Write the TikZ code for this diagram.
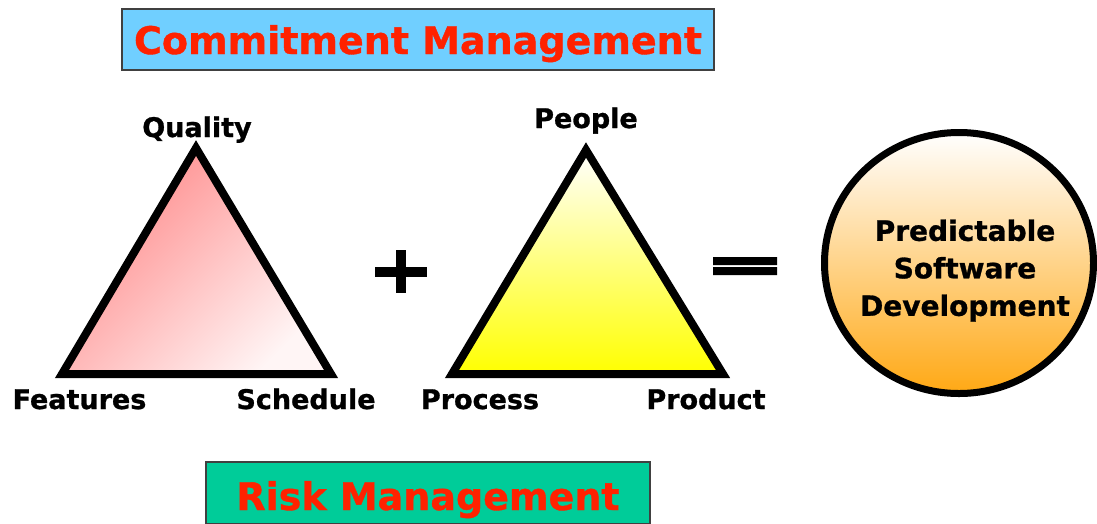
\documentclass[tikz,border=0pt]{standalone}
\usepackage{fontspec}
\setmainfont{DejaVu Sans}[BoldFeatures={FakeBold=1}]
\usetikzlibrary{positioning,shapes.geometric}

\definecolor{boxblue}{RGB}{112,207,255}
\definecolor{boxgreen}{RGB}{0,204,153}
\definecolor{titlered}{RGB}{255,34,0}
\definecolor{tripink}{RGB}{255,135,135}
\definecolor{triyellow}{RGB}{255,255,0}
\definecolor{goalpeach}{RGB}{255,216,188}
\definecolor{goalorange}{RGB}{255,168,20}

\begin{document}
\begin{tikzpicture}[x=1pt,y=-1pt,
    title/.style={draw=black!75, line width=1.5, text=titlered, inner sep=0,
      font=\fontsize{38}{40}\selectfont\bfseries, text depth=0pt},
    corner/.style={anchor=base, inner sep=0, font=\fontsize{27}{29}\selectfont\bfseries},
    side/.style={line width=8, line join=miter}]
  \useasboundingbox (0,0) rectangle (1097,523);

  \node[title, fill=boxblue, minimum width=592, minimum height=61, text height=29pt] (commit) at (418,39.5) {Commitment Management};
  \node[title, fill=boxgreen, minimum width=444, minimum height=62, text height=34pt] (risk) at (428,493) {Risk Management};

  % quality triangle
  \coordinate (q_top) at (196,148);
  \coordinate (q_left) at (62,374);
  \coordinate (q_right) at (331,374);
  \shadedraw[side, top color=tripink, bottom color=tripink!8, shading angle=45] (q_top) -- (q_left) -- (q_right) -- cycle;
  \node[corner] (quality) at (197,137) {Quality};
  \node[corner] (features) at (79.5,409) {Features};
  \node[corner] (schedule) at (306,409) {Schedule};

  % plus
  \draw[line width=10] (375,271.7) -- (427,271.7) (401,250) -- (401,293);

  % people triangle
  \coordinate (p_top) at (586,150);
  \coordinate (p_left) at (452,374);
  \coordinate (p_right) at (723,374);
  \shadedraw[side, top color=white, bottom color=triyellow] (p_top) -- (p_left) -- (p_right) -- cycle;
  \node[corner] (people) at (586,128) {People};
  \node[corner] (process) at (480,409) {Process};
  \node[corner] (product) at (706,409) {Product};

  % equals
  \fill (713,257) rectangle (777,265) (713,267) rectangle (777,275);

  % result
  \node[ellipse, draw, line width=7, minimum width=269, minimum height=261, top color=white, middle color=goalpeach, bottom color=goalorange] (goal) at (959,263) {};
  \node[align=center, inner sep=0, font=\fontsize{28}{37.5}\selectfont\bfseries] (goal_text) at (965,270.6) {Predictable\\Software\\Development};
\end{tikzpicture}
\end{document}
